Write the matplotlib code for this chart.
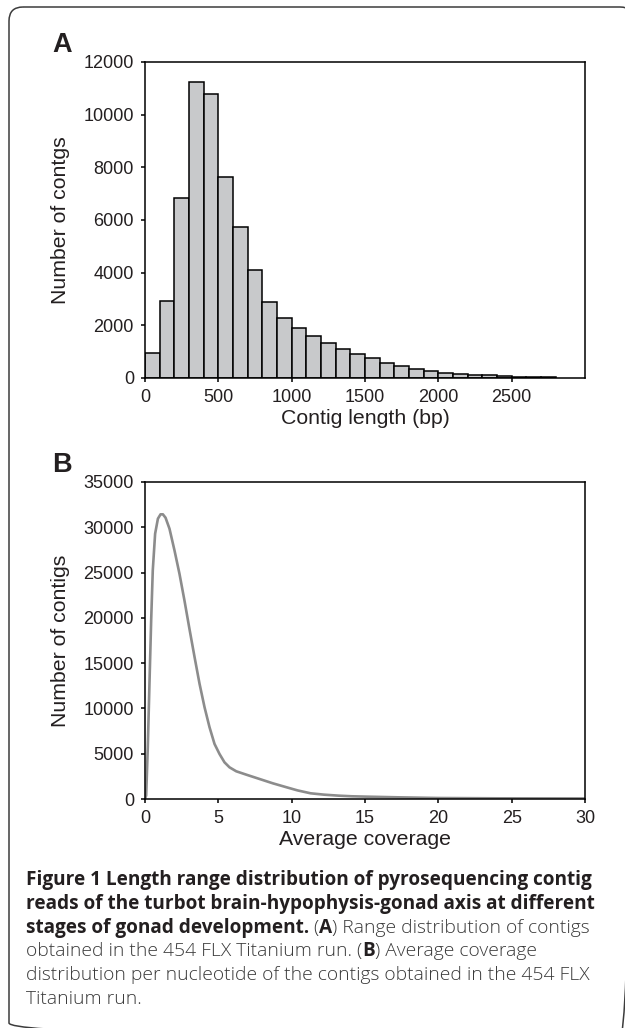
import matplotlib
matplotlib.use("Agg")
import matplotlib.pyplot as plt
from matplotlib.patches import FancyBboxPatch

# panel A: contig length histogram (bins of 100 bp)
BIN_STARTS = list(range(0, 2800, 100))
BIN_COUNTS = [950, 2930, 6830, 11250, 10780, 7620, 5730, 4100, 2880, 2290,
              1900, 1590, 1330, 1110, 910, 750, 580, 450, 360, 270,
              200, 160, 120, 95, 70, 55, 45, 35]

# panel B: average coverage curve
COVERAGE = [0.0, 0.08, 0.19, 0.31, 0.42, 0.53, 0.69, 0.88, 1.06, 1.22, 1.40,
            1.67, 2.01, 2.35, 2.69, 3.03, 3.38, 3.72, 4.06, 4.40, 4.74, 5.08,
            5.42, 5.76, 6.22, 6.90, 7.81, 8.72, 9.66, 10.4, 11.29, 12.2, 13.19,
            14.1, 15.1, 17.27, 19.99, 24.07, 30.0]
CONTIGS = [0, 400, 5710, 13080, 19710, 25240, 29290, 30950, 31430, 31430, 31060,
           29840, 27450, 24870, 21920, 18790, 15660, 12710, 10130, 7920, 6080, 4970,
           4050, 3500, 3060, 2690, 2210, 1730, 1290, 950, 630, 480, 370,
           300, 260, 185, 110, 75, 60]

CAPTION = [
    [("Figure 1 Length range distribution of pyrosequencing contig", True)],
    [("reads of the turbot brain-hypophysis-gonad axis at different", True)],
    [("stages of gonad development.", True), (" (", False), ("A", True),
     (") Range distribution of contigs", False)],
    [("obtained in the 454 FLX Titanium run. (", False), ("B", True),
     (") Average coverage", False)],
    [("distribution per nucleotide of the contigs obtained in the 454 FLX", False)],
    [("Titanium run.", False)],
]

W, H = 625, 1028
INK = "#231f20"
LABEL_SIZE = 15.3


def style_axes(ax):
    for side in ["top", "right", "left", "bottom"]:
        ax.spines[side].set_linewidth(1.1)
        ax.spines[side].set_color("black")
    ax.tick_params(direction="out", length=3, width=1.1, pad=5,
                   labelsize=13, labelcolor=INK, color="black")


def draw_caption(over, fig, x0, y0, step):
    renderer = fig.canvas.get_renderer()
    for i, line in enumerate(CAPTION):
        x = x0
        for text, bold in line:
            t = over.text(x, y0 + i * step, text, family=["Open Sans", "DejaVu Sans"],
                          fontsize=13.7 if bold else 13.9,
                          fontweight="bold" if bold else "light",
                          color=INK if bold else "#3a3a3a", va="baseline", ha="left")
            x += t.get_window_extent(renderer).width


def main():
    plt.rcParams["font.family"] = ["Liberation Sans", "DejaVu Sans"]
    fig = plt.figure(figsize=(W / 100, H / 100), dpi=100)

    over = fig.add_axes([0, 0, 1, 1], zorder=-1)
    over.set_xlim(0, W)
    over.set_ylim(H, 0)
    over.axis("off")
    over.add_patch(FancyBboxPatch((9, 7), 625, 1030,
                                  boxstyle="round,pad=0,rounding_size=14",
                                  fill=False, edgecolor="#3c3c3c", linewidth=1.1))
    over.text(52, 52, "A", fontsize=19.5, fontweight="bold", color=INK, ha="left", va="baseline")
    over.text(52, 472, "B", fontsize=19.5, fontweight="bold", color=INK, ha="left", va="baseline")

    ax_a = fig.add_axes([145 / W, 1 - 378 / H, 440 / W, 316 / H])
    ax_a.bar(BIN_STARTS, BIN_COUNTS, width=100, align="edge",
             color="#c8c9cb", edgecolor="black", linewidth=1.1)
    ax_a.set_xlim(0, 3000)
    ax_a.set_ylim(0, 12000)
    ax_a.set_xticks([0, 500, 1000, 1500, 2000, 2500])
    ax_a.set_yticks(range(0, 12001, 2000))
    ax_a.set_xlabel("Contig length (bp)", fontsize=LABEL_SIZE, color=INK, labelpad=2)
    ax_a.set_ylabel("Number of contgs", fontsize=LABEL_SIZE, color=INK, labelpad=10)
    style_axes(ax_a)

    ax_b = fig.add_axes([145 / W, 1 - 799 / H, 440 / W, 317 / H])
    ax_b.plot(COVERAGE, CONTIGS, color="#8c8c8c", linewidth=1.9,
              solid_joinstyle="round", solid_capstyle="round")
    ax_b.set_xlim(0, 30)
    ax_b.set_ylim(0, 35000)
    ax_b.set_xticks(range(0, 31, 5))
    ax_b.set_yticks(range(0, 35001, 5000))
    ax_b.set_xlabel("Average coverage", fontsize=LABEL_SIZE, color=INK, labelpad=2)
    ax_b.set_ylabel("Number of contigs", fontsize=LABEL_SIZE, color=INK, labelpad=10)
    style_axes(ax_b)

    draw_caption(over, fig, 26, 885, 23.8)

    fig.savefig("out.png", dpi=100)
    plt.close(fig)


if __name__ == "__main__":
    main()
